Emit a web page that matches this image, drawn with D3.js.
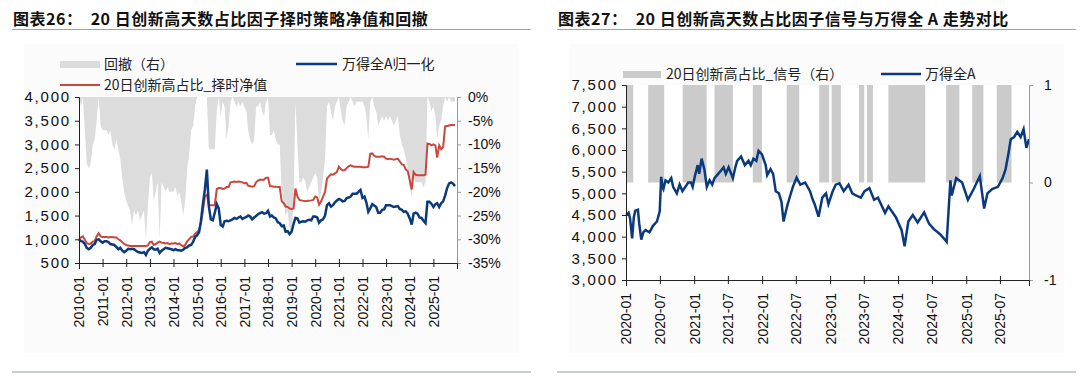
<!DOCTYPE html>
<meta charset="utf-8">
<script src="https://d3js.org/d3.v7.min.js"></script>
<style>
  body { margin: 0; background: #fff; }
  svg text { font-family: "Liberation Sans", Arial, sans-serif; }
  .cn { font-family: "Noto Sans CJK SC", sans-serif; }
</style>
<body>
<svg id="chart" width="1080" height="376"></svg>
<script>
// ---------- left chart: monthly 2010-01 .. 2025-12 ----------
var navMonths = d3.timeMonth.range(new Date(2010, 0, 1), new Date(2026, 0, 1));

// 万得全A归一化
var wdaNorm = [
  1000, 960, 950, 900, 820, 790, 820, 880, 900, 990, 1000, 960,
  930, 960, 960, 940, 900, 890, 880, 840, 790, 820, 760, 730,
  760, 800, 790, 800, 790, 760, 730, 720, 710, 730, 670, 760,
  800, 830, 790, 780, 800, 710, 760, 790, 820, 810, 800, 790,
  770, 790, 770, 770, 760, 780, 820, 830, 870, 880, 950, 1050,
  1080, 1150, 1380, 1750, 2050, 2470, 1700, 1420, 1400, 1560, 1740, 1650,
  1300, 1270, 1380, 1390, 1380, 1400, 1420, 1450, 1430, 1460, 1480, 1430,
  1450, 1470, 1500, 1480, 1420, 1460, 1490, 1530, 1550, 1570, 1540, 1550,
  1600, 1480, 1500, 1460, 1440, 1360, 1340, 1280, 1290, 1160, 1170, 1110,
  1160, 1330, 1450, 1440, 1350, 1370, 1380, 1370, 1400, 1410, 1400, 1480,
  1480, 1460, 1350, 1400, 1420, 1500, 1720, 1760, 1690, 1720, 1780, 1820,
  1850, 1830, 1800, 1810, 1870, 1880, 1900, 1960, 1960, 1960, 2000, 2040,
  1870, 1900, 1780, 1580, 1650, 1740, 1710, 1680, 1560, 1560, 1620, 1630,
  1720, 1720, 1720, 1700, 1680, 1690, 1700, 1640, 1620, 1580, 1590, 1540,
  1440, 1310, 1540, 1560, 1540, 1460, 1450, 1390, 1340, 1790, 1790, 1750,
  1680, 1740, 1760, 1680, 1760, 1800, 1920, 2080, 2180, 2200, 2170, 2120
];

// 20日创新高占比_择时净值
var timingNav = [
  1000, 1040, 1060, 990, 920, 900, 910, 950, 960, 1060, 1130, 1060,
  1050, 1050, 1050, 1040, 1050, 1050, 1040, 1040, 1000, 980, 940, 900,
  880, 870, 860, 860, 860, 860, 860, 860, 860, 860, 858, 870,
  940, 950, 880, 900, 930, 950, 930, 920, 910, 920, 900, 910,
  910, 920, 900, 910, 880, 850, 880, 960, 1000, 1050, 1060, 1120,
  1150, 1200, 1350, 1600, 1900, 1940, 1730, 1720, 1720, 1720, 2060, 2080,
  2080, 2060, 2070, 2100, 2100, 2200, 2210, 2220, 2210, 2220, 2210, 2200,
  2180, 2190, 2130, 2120, 2110, 2120, 2200, 2240, 2260, 2250, 2260, 2300,
  2300, 2120, 2120, 2110, 2110, 2100, 2100, 1800, 1760, 1690, 1680, 1650,
  1640, 1650, 2070, 1900, 1830, 1820, 1810, 1800, 1810, 1810, 1820, 1830,
  1900, 1880, 1730, 1800, 1900, 2000, 2280, 2330, 2370, 2360, 2390, 2420,
  2530, 2480, 2450, 2460, 2500, 2540, 2560, 2540, 2530, 2530, 2530, 2530,
  2520, 2520, 2520, 2530, 2800, 2810, 2760, 2740, 2740, 2740, 2750, 2740,
  2700, 2690, 2700, 2690, 2680, 2690, 2700, 2640, 2580, 2570, 2470, 2440,
  2250, 2050, 2420, 2360, 2350, 2350, 2350, 2350, 2360, 3020, 3010, 2980,
  3000, 2980, 2720, 2980, 2900, 2950, 3380, 3390, 3400, 3410, 3410, 3410
];

// 回撤（右）, percent
var drawdown = [
  0, -2, 0, -7, -14, -15, -14, -10, -9, -5, 0, -6,
  -7, -7, -7, -8, -7, -10, -11, -9, -11, -13, -17, -20,
  -22, -23, -24, -27, -24, -25, -24, -26, -25, -24, -30, -23,
  -17, -16, -22, -20, -18, -30, -18, -19, -20, -19, -20, -20,
  -20, -19, -21, -20, -22, -25, -22, -15, -12, -7, -6, -2,
  0, 0, 0, 0, 0, 0, -11, -11, -11, -11, -3, 0,
  -4, -1, -2, -9, -6, -1, 0, -1, -2, -1, -2, -1,
  -2, -3, -7, -9, -10, -9, -2, -2, -1, -3, -4, -1,
  0, -8, -8, -7, -9, -10, -10, -20, -22, -25, -24, -28,
  -29, -22, -1, -10, -18, -18, -17, -18, -20, -19, -18, -17,
  -16, -17, -22, -20, -17, -13, -2, -1, -3, -5, -2, -1,
  0, -3, -5, -6, -2, -1, 0, -1, -2, -1, -1, -1,
  -1, -2, -4, -9, -1, 0, -2, -3, -6, -5, -4, -5,
  -4, -5, -4, -5, -6, -5, -4, -8, -10, -11, -13, -15,
  -19, -21, -17, -18, -18, -18, -18, -19, -18, 0, -1, -3,
  -2, -4, -9, -6, -5, -2, 0, -1, 0, -1, -1, -1
];

var leftTicks = ["2010-01", "2011-01", "2012-01", "2013-01", "2014-01", "2015-01", "2016-01", "2017-01",
  "2018-01", "2019-01", "2020-01", "2021-01", "2022-01", "2023-01", "2024-01", "2025-01"];

// ---------- right chart ----------
var wdaDates = [
  "2020-01-02", "2020-01-15", "2020-01-23", "2020-02-03", "2020-02-12", "2020-02-20", "2020-03-05",
  "2020-03-12", "2020-03-23", "2020-04-03", "2020-04-15", "2020-05-06", "2020-05-25", "2020-06-15",
  "2020-06-30", "2020-07-08", "2020-07-15", "2020-07-20", "2020-07-31", "2020-08-15", "2020-08-31",
  "2020-09-10", "2020-09-30", "2020-10-15", "2020-10-30", "2020-11-15", "2020-11-30", "2020-12-15",
  "2020-12-24", "2021-01-05", "2021-01-20", "2021-01-28", "2021-02-10", "2021-02-25", "2021-03-10",
  "2021-03-25", "2021-04-08", "2021-04-20", "2021-05-10", "2021-05-20", "2021-06-08", "2021-06-20",
  "2021-07-05", "2021-07-28", "2021-08-10", "2021-08-20", "2021-09-10", "2021-09-30", "2021-10-20",
  "2021-11-01", "2021-11-15", "2021-12-01", "2021-12-13", "2021-12-31", "2022-01-20", "2022-01-28",
  "2022-02-15", "2022-03-01", "2022-03-15", "2022-04-01", "2022-04-15", "2022-04-26", "2022-05-15",
  "2022-06-01", "2022-06-15", "2022-07-05", "2022-07-25", "2022-08-20", "2022-09-15", "2022-09-30",
  "2022-10-10", "2022-10-31", "2022-11-20", "2022-12-10", "2022-12-23", "2023-01-15", "2023-01-31",
  "2023-02-20", "2023-03-15", "2023-04-10", "2023-04-30", "2023-05-20", "2023-06-15", "2023-07-05",
  "2023-07-31", "2023-08-25", "2023-09-15", "2023-10-23", "2023-11-10", "2023-12-20", "2024-01-20",
  "2024-02-05", "2024-02-25", "2024-03-20", "2024-04-15", "2024-05-20", "2024-06-15", "2024-07-10",
  "2024-08-15", "2024-09-18", "2024-10-08", "2024-10-15", "2024-11-08", "2024-12-10", "2025-01-10",
  "2025-02-10", "2025-03-15", "2025-04-07", "2025-04-25", "2025-05-20", "2025-06-20", "2025-07-15",
  "2025-07-31", "2025-08-15", "2025-08-28", "2025-09-15", "2025-10-02", "2025-10-20", "2025-11-05",
  "2025-11-20", "2025-12-04"
];
var wdaIndex = [
  4500, 4550, 4420, 3960, 4450, 4600, 4620,
  4300, 3930, 4100, 4150, 4100, 4250, 4350,
  4580, 5380, 5150, 5100, 5300, 5250, 5350,
  5150, 5000, 5200, 5050, 5150, 5250, 5250,
  5150, 5400, 5650, 5450, 5800, 5550, 5150,
  5300, 5200, 5350, 5450, 5500, 5600, 5450,
  5600, 5350, 5600, 5750, 5850, 5650, 5750,
  5650, 5800, 5750, 5980, 5900, 5650, 5420,
  5560, 5450, 5050, 5000, 4800, 4350, 4700,
  4950, 5150, 5360, 5200, 5250, 5050, 4850,
  4750, 4460, 4900, 5000, 4750, 5050, 5200,
  5230, 5050, 5200, 5000, 4950, 4900, 5050,
  5120, 4850, 4900, 4550, 4700, 4450, 4150,
  3780, 4350, 4500, 4330, 4560, 4300, 4180,
  4050, 3880, 5300, 4950, 5350, 5250, 4850,
  5100, 5400, 4650, 5000, 5100, 5150, 5350,
  5550, 5900, 6250, 6300, 6420, 6300, 6480,
  6050, 6250
];

// 20日创新高占比_信号 = 1 periods
var signalStart = ["2020-01-01", "2020-04-29", "2020-10-31", "2021-04-20", "2021-11-12", "2022-05-13", "2022-11-04",
  "2023-01-09", "2023-06-05", "2023-07-18", "2023-11-10", "2024-09-15", "2025-02-02", "2025-06-14"];
var signalEnd = ["2020-02-09", "2020-07-24", "2021-03-09", "2021-07-28", "2021-12-31", "2022-07-19", "2022-12-27",
  "2023-02-28", "2023-07-03", "2023-08-19", "2024-05-26", "2024-11-25", "2025-04-03", "2025-09-01"];

var rightTicks = ["2020-01", "2020-07", "2021-01", "2021-07", "2022-01", "2022-07",
  "2023-01", "2023-07", "2024-01", "2024-07", "2025-01", "2025-07"];

var blue = "#0b3a7c", red = "#c9473d", ddGray = "#dcdcdc", sigGray = "#cbcbcb";
var parseM = d3.timeParse("%Y-%m"), parseD = d3.timeParse("%Y-%m-%d");

var svg = d3.select("#chart");

// panel frames, titles, rules
function panel(x0, x1, title) {
  svg.append("rect").attr("x", x0 + 12).attr("y", 44).attr("width", x1 - x0 - 24).attr("height", 309)
    .attr("fill", "#fbfbfb");
  svg.append("text").attr("class", "cn").attr("x", x0 + 1).attr("y", 25)
    .style("font-size", "16px").style("font-weight", "bold").style("letter-spacing", "0.5px")
    .style("white-space", "pre").attr("fill", "#111").text(title);
  svg.append("line").attr("x1", x0).attr("x2", x1).attr("y1", 29.5).attr("y2", 29.5)
    .attr("stroke", "#8ea5c3").attr("stroke-width", 1);
  svg.append("line").attr("x1", x0).attr("x2", x1).attr("y1", 372).attr("y2", 372)
    .attr("stroke", "#c3ccd9").attr("stroke-width", 2);
}
panel(12, 531, "图表26：  20 日创新高天数占比因子择时策略净值和回撤");
panel(557, 1076, "图表27：  20 日创新高天数占比因子信号与万得全 A 走势对比");

function styleAxis(g, color) {
  g.selectAll("text").style("font-size", "14px").attr("fill", "#111");
  g.select(".domain").attr("stroke", color);
  g.selectAll(".tick line").attr("stroke", color);
}
function bottomAxis(g) {
  g.selectAll(".tick line").attr("y1", -4).attr("y2", 4);
  g.selectAll("text").attr("transform", "rotate(-90)").attr("x", -13).attr("y", 0)
    .attr("dy", "0.35em").style("text-anchor", "end");
}
function wideLabels(g) {
  g.selectAll("text").style("font-size", "15px").style("letter-spacing", "1.8px");
}

// ---------- left chart ----------
var xL = d3.scaleTime().domain([new Date(2010, 0, 1), new Date(2026, 0, 1)]).range([79, 457]);
var yL = d3.scaleLinear().domain([500, 4000]).range([263, 97]);
var yDD = d3.scaleLinear().domain([-35, 0]).range([263, 97]);

svg.append("rect").attr("x", 79).attr("y", 97).attr("width", 378).attr("height", 166).attr("fill", "#fff");

svg.append("path").datum(drawdown)
  .attr("fill", ddGray)
  .attr("d", d3.area()
    .x(function(d, i) { return xL(navMonths[i]); })
    .y0(yDD(0))
    .y1(function(d) { return yDD(d); }));

svg.append("path").datum(timingNav)
  .attr("fill", "none").attr("stroke", red).attr("stroke-width", 2)
  .attr("d", d3.line().x(function(d, i) { return xL(navMonths[i]); }).y(function(d) { return yL(d); }));

svg.append("path").datum(wdaNorm)
  .attr("fill", "none").attr("stroke", blue).attr("stroke-width", 2.5)
  .attr("d", d3.line().x(function(d, i) { return xL(navMonths[i]); }).y(function(d) { return yL(d); }));

var gl = svg.append("g").attr("transform", "translate(79,0)")
  .call(d3.axisLeft(yL).tickValues(d3.range(500, 4001, 500)).tickFormat(d3.format(",")).tickSize(4).tickPadding(4));
styleAxis(gl, "#222");
wideLabels(gl);

var gr = svg.append("g").attr("transform", "translate(457,0)")
  .call(d3.axisRight(yDD).tickValues(d3.range(-35, 1, 5)).tickFormat(function(d) { return d + "%"; }).tickSize(4).tickPadding(7));
styleAxis(gr, "#9a9a9a");

var gb = svg.append("g").attr("transform", "translate(0,263)")
  .call(d3.axisBottom(xL).tickValues(leftTicks.map(parseM)).tickFormat(function(d, i) { return leftTicks[i]; }));
styleAxis(gb, "#222");
bottomAxis(gb);

// legend
svg.append("rect").attr("x", 60).attr("y", 61).attr("width", 40).attr("height", 7).attr("fill", ddGray);
svg.append("text").attr("class", "cn").attr("x", 104).attr("y", 69).style("font-size", "14px").attr("fill", "#222").text("回撤（右）");
svg.append("line").attr("x1", 296).attr("x2", 337).attr("y1", 64).attr("y2", 64).attr("stroke", blue).attr("stroke-width", 2.5);
svg.append("text").attr("class", "cn").attr("x", 342).attr("y", 69).style("font-size", "14px").attr("fill", "#222").text("万得全A归一化");
svg.append("line").attr("x1", 60).attr("x2", 100).attr("y1", 85).attr("y2", 85).attr("stroke", red).attr("stroke-width", 2);
svg.append("text").attr("class", "cn").attr("x", 104).attr("y", 90).style("font-size", "14px").attr("fill", "#222").text("20日创新高占比_择时净值");

// ---------- right chart ----------
var x2 = d3.scaleTime().domain([new Date(2020, 0, 1), new Date(2025, 11, 4)]).range([626, 1029]);
var y2 = d3.scaleLinear().domain([3000, 7500]).range([280, 85]);
var ySig = d3.scaleLinear().domain([-1, 1]).range([280, 85]);

svg.append("rect").attr("x", 626).attr("y", 85).attr("width", 403).attr("height", 195).attr("fill", "#fff");

svg.selectAll("rect.sig").data(signalStart).enter().append("rect").attr("class", "sig")
  .attr("x", function(d) { return x2(parseD(d)); })
  .attr("width", function(d, i) { return x2(parseD(signalEnd[i])) - x2(parseD(d)); })
  .attr("y", ySig(1)).attr("height", ySig(0) - ySig(1))
  .attr("fill", sigGray);

svg.append("path").datum(wdaIndex)
  .attr("fill", "none").attr("stroke", blue).attr("stroke-width", 2.5)
  .attr("d", d3.line().x(function(d, i) { return x2(parseD(wdaDates[i])); }).y(function(d) { return y2(d); }));

var gl2 = svg.append("g").attr("transform", "translate(626,0)")
  .call(d3.axisLeft(y2).tickValues(d3.range(3000, 7501, 500)).tickFormat(d3.format(",")).tickSize(4).tickPadding(4));
styleAxis(gl2, "#222");
wideLabels(gl2);

var gr2 = svg.append("g").attr("transform", "translate(1029,0)")
  .call(d3.axisRight(ySig).tickValues([-1, 0, 1]).tickFormat(function(d) { return String(d); }).tickSize(4).tickPadding(11));
styleAxis(gr2, "#9a9a9a");

var gb2 = svg.append("g").attr("transform", "translate(0,280)")
  .call(d3.axisBottom(x2).tickValues(rightTicks.map(parseM)).tickFormat(function(d, i) { return rightTicks[i]; }));
styleAxis(gb2, "#222");
bottomAxis(gb2);

// legend
svg.append("rect").attr("x", 623).attr("y", 71).attr("width", 38).attr("height", 7).attr("fill", sigGray);
svg.append("text").attr("class", "cn").attr("x", 666).attr("y", 79).style("font-size", "14px").attr("fill", "#222").text("20日创新高占比_信号（右）");
svg.append("line").attr("x1", 881).attr("x2", 921).attr("y1", 74).attr("y2", 74).attr("stroke", blue).attr("stroke-width", 2.5);
svg.append("text").attr("class", "cn").attr("x", 925).attr("y", 79).style("font-size", "14px").attr("fill", "#222").text("万得全A");
</script>
</body>
